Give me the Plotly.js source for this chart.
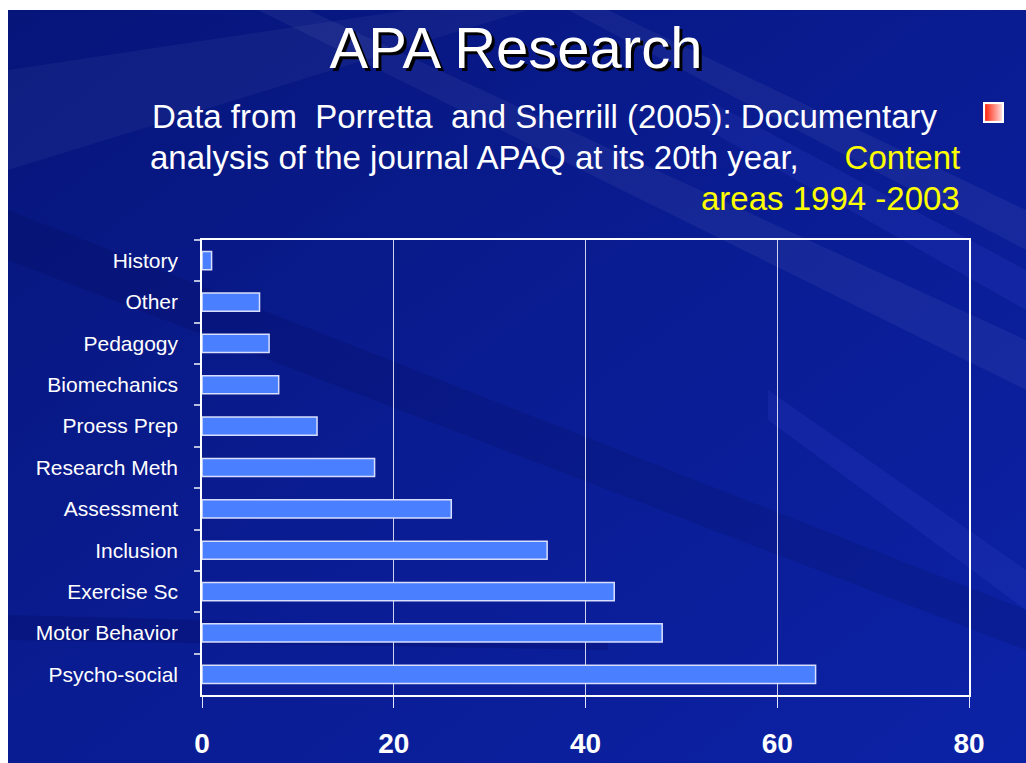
<!DOCTYPE html>
<html>
<head>
<meta charset="utf-8">
<script src="https://cdn.plot.ly/plotly-3.0.1.min.js"></script>
<style>
html,body{margin:0;padding:0;background:#ffffff;}
#chart{position:absolute;left:8px;top:10px;width:1018px;height:753px;}
</style>
</head>
<body>
<div id="chart"></div>
<script>
// Data (top to bottom as shown)
const categories = ["History","Other","Pedagogy","Biomechanics","Proess Prep","Research Meth","Assessment","Inclusion","Exercise Sc","Motor Behavior","Psycho-social"];
const values = [1, 6, 7, 8, 12, 18, 26, 36, 43, 48, 64];
const xTicks = [0, 20, 40, 60, 80];

const titleText = "APA Research";
const subLine1 = "Data from&#160; Porretta&#160; and Sherrill (2005): Documentary";
const subLine2 = "analysis of the journal APAQ at its 20th year,&#160;&#160;&#160;&#160; <span style='color:#ffff00'>Content</span>";
const subLine3 = "areas 1994 -2003";

// page pixel -> paper coordinate helpers (plot area: x 202..969, y 240..695 on page)
const px = x => (x - 202) / 767;
const py = y => (695 - y) / 455;

const bgSvg = "data:image/svg+xml;utf8," + encodeURIComponent(
`<svg xmlns='http://www.w3.org/2000/svg' width='1018' height='753' viewBox='0 0 1018 753'>
<defs>
<linearGradient id='g' x1='0' y1='0' x2='1' y2='1'>
<stop offset='0' stop-color='#06157a'/>
<stop offset='0.5' stop-color='#0a1c92'/>
<stop offset='1' stop-color='#0c22a6'/>
</linearGradient>
</defs>
<rect width='1018' height='753' fill='url(#g)'/>
<polygon points='0,60 400,0 520,0 0,160' fill='#ffffff' opacity='0.04'/>
<polygon points='300,0 1018,330 1018,380 250,0' fill='#ffffff' opacity='0.05'/>
<polygon points='600,0 1018,200 1018,240 560,0' fill='#ffffff' opacity='0.05'/>
<polygon points='0,250 1018,640 1018,600 0,200' fill='#000033' opacity='0.12'/>
<polygon points='700,90 1018,260 1018,300 700,120' fill='#6070ff' opacity='0.10'/>
<polygon points='760,380 1018,560 1018,600 760,410' fill='#6070ff' opacity='0.10'/>
<polygon points='0,605 600,620 600,640 0,630' fill='#000044' opacity='0.18'/>
</svg>`);

const legendSvg = "data:image/svg+xml;utf8," + encodeURIComponent(
`<svg xmlns='http://www.w3.org/2000/svg' width='20' height='20' viewBox='0 0 20 20'>
<defs><linearGradient id='r' x1='0' y1='0' x2='1' y2='0'>
<stop offset='0' stop-color='#ff1a00'/><stop offset='1' stop-color='#ffe6e6'/>
</linearGradient></defs>
<rect x='1' y='1' width='18' height='18' fill='url(#r)' stroke='#ffffff' stroke-width='2'/>
</svg>`);

const trace = {
  type: "bar",
  orientation: "h",
  y: categories,
  x: values,
  width: 0.44,
  marker: {color: "#4a80ff", line: {color: "rgba(225,230,255,0.95)", width: 1.5}},
  hoverinfo: "x+y"
};

const layout = {
  width: 1018,
  height: 753,
  margin: {l: 194, r: 57, t: 230, b: 68},
  paper_bgcolor: "#0a1c92",
  plot_bgcolor: "rgba(0,0,0,0)",
  showlegend: false,
  font: {family: "Liberation Sans, Arial, sans-serif", color: "#ffffff"},
  title: {
    text: titleText,
    x: (516 - 8) / 1018,
    xref: "container",
    xanchor: "center",
    y: 1 - (48 - 10) / 753,
    yref: "container",
    yanchor: "middle",
    font: {size: 58, color: "#ffffff", family: "Liberation Sans, Arial, sans-serif", shadow: "3px 3px 0px #000000"}
  },
  xaxis: {
    range: [0, 80],
    tickvals: xTicks,
    ticktext: xTicks.map(String),
    showgrid: true,
    gridcolor: "rgba(255,255,255,0.8)",
    gridwidth: 1,
    zeroline: false,
    showline: true,
    linecolor: "#ffffff",
    linewidth: 1.5,
    mirror: true,
    ticks: "outside",
    ticklen: 11,
    tickcolor: "#e0e4ff",
    tickwidth: 1,
    ticklabelstandoff: 12,
    tickfont: {size: 28, color: "#ffffff", family: "Liberation Sans, Arial, sans-serif", weight: "bold"},
    fixedrange: true
  },
  yaxis: {
    type: "category",
    categoryorder: "array",
    categoryarray: categories,
    autorange: "reversed",
    showgrid: false,
    zeroline: false,
    showline: true,
    linecolor: "#ffffff",
    linewidth: 1.5,
    mirror: true,
    ticks: "outside",
    tickson: "boundaries",
    ticklen: 6,
    tickcolor: "#b8bedd",
    tickwidth: 1.5,
    ticklabelstandoff: 18,
    tickfont: {size: 21, color: "#ffffff", family: "Liberation Sans, Arial, sans-serif"},
    fixedrange: true
  },
  images: [
    {source: bgSvg, xref: "paper", yref: "paper", x: px(8), y: py(10), sizex: 1018/767, sizey: 753/455, xanchor: "left", yanchor: "top", sizing: "stretch", layer: "below"},
    {source: legendSvg, xref: "paper", yref: "paper", x: px(983), y: py(102), sizex: 21/767, sizey: 21/455, xanchor: "left", yanchor: "top", sizing: "stretch", layer: "above"}
  ],
  annotations: [
    {text: subLine1, xref: "paper", yref: "paper", x: px(544), y: py(116), xanchor: "center", yanchor: "middle", showarrow: false, font: {size: 33, color: "#ffffff"}},
    {text: subLine2, xref: "paper", yref: "paper", x: px(962), y: py(157), xanchor: "right", yanchor: "middle", showarrow: false, font: {size: 33, color: "#ffffff"}},
    {text: subLine3, xref: "paper", yref: "paper", x: px(962), y: py(198), xanchor: "right", yanchor: "middle", showarrow: false, font: {size: 33, color: "#ffff00"}}
  ]
};

Plotly.newPlot("chart", [trace], layout, {displayModeBar: false, staticPlot: false});
</script>
</body>
</html>
